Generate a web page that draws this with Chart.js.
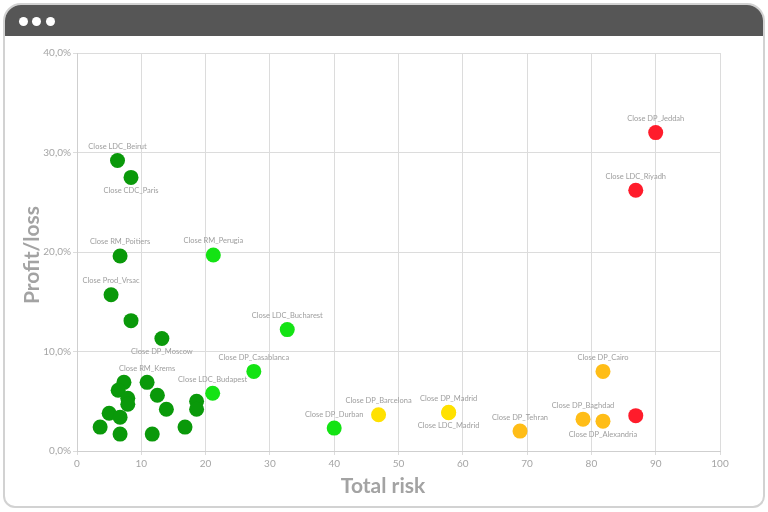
<!DOCTYPE html>
<html>
<head>
<meta charset="utf-8">
<script src="https://cdn.jsdelivr.net/npm/chart.js@4.4.1/dist/chart.umd.min.js"></script>
<style>
  html, body { margin: 0; padding: 0; background: #fff; }
  #wrap { position: relative; width: 768px; height: 512px; overflow: hidden; }
  #frame {
    position: absolute; left: 3px; top: 3px; width: 758px; height: 501px;
    border: 2px solid #d2d2d2; border-radius: 18px 18px 12px 12px; overflow: hidden;
  }
  #bar { position: absolute; left: 0; top: 0; right: 0; height: 31px; background: #565656; }
  .dot { position: absolute; top: 12px; width: 9px; height: 9px; border-radius: 50%; background: #fff; }
  #chart { position: absolute; left: 0; top: 0; }
</style>
</head>
<body>
<div id="wrap">
  <div id="frame">
    <div id="bar">
      <div class="dot" style="left:14px"></div>
      <div class="dot" style="left:27px"></div>
      <div class="dot" style="left:41px"></div>
    </div>
  </div>
  <canvas id="chart" width="768" height="512"></canvas>
</div>
<script>
// Total risk (x) and profit/loss in % (y), grouped by colour
const darkGreenNames = ['Close LDC_Beirut', 'Close CDC_Paris', 'Close RM_Poitiers', 'Close Prod_Vrsac', '', 'Close DP_Moscow', 'Close RM_Krems',
  '', '', '', '', '', '', '', '', '', '', '', '', '', ''];
const darkGreenRisk = [6.3, 8.4, 6.7, 5.3, 8.4, 13.2, 10.9, 7.3, 6.4, 7.9, 7.9, 5.0, 6.7, 3.6, 6.7, 12.5, 13.9, 11.7, 16.8, 18.6, 18.6];
const darkGreenProfit = [29.2, 27.5, 19.6, 15.7, 13.1, 11.3, 6.9, 6.9, 6.1, 5.3, 4.7, 3.8, 3.4, 2.4, 1.7, 5.6, 4.2, 1.7, 2.4, 5.0, 4.2];

const greenNames = ['Close RM_Perugia', 'Close LDC_Bucharest', 'Close DP_Casablanca', 'Close LDC_Budapest', 'Close DP_Durban'];
const greenRisk = [21.2, 32.7, 27.5, 21.1, 40.0];
const greenProfit = [19.7, 12.2, 8.0, 5.8, 2.3];

const yellowNames = ['Close DP_Barcelona', 'Close DP_Madrid', 'Close LDC_Madrid'];
const yellowRisk = [46.9, 57.8, 57.8];
const yellowProfit = [3.65, 3.9, 3.85];

const orangeNames = ['Close DP_Tehran', 'Close DP_Baghdad', 'Close DP_Alexandria', 'Close DP_Cairo'];
const orangeRisk = [68.9, 78.7, 81.8, 81.8];
const orangeProfit = [2.0, 3.2, 3.0, 8.0];

const redNames = ['', 'Close DP_Jeddah', 'Close LDC_Riyadh'];
const redRisk = [86.9, 90.0, 86.9];
const redProfit = [3.55, 32.0, 26.2];

// labels drawn under their point instead of above
const namesBelow = ['Close CDC_Paris', 'Close DP_Moscow', 'Close LDC_Madrid', 'Close DP_Alexandria'];

const groups = [
  { names: darkGreenNames, risk: darkGreenRisk, profit: darkGreenProfit, color: '#0a990a' },
  { names: greenNames, risk: greenRisk, profit: greenProfit, color: '#14e314' },
  { names: yellowNames, risk: yellowRisk, profit: yellowProfit, color: '#ffe100' },
  { names: orangeNames, risk: orangeRisk, profit: orangeProfit, color: '#ffbd17' },
  { names: redNames, risk: redRisk, profit: redProfit, color: '#ff1c2b' }
];

const pointLabels = {
  id: 'pointLabels',
  afterDatasetsDraw(chart) {
    const ctx = chart.ctx;
    ctx.save();
    ctx.font = '7.5px Lato';
    ctx.fillStyle = '#9e9e9e';
    ctx.textAlign = 'center';
    ctx.textBaseline = 'middle';
    chart.data.datasets.forEach((ds, i) => {
      const meta = chart.getDatasetMeta(i);
      meta.data.forEach((el, j) => {
        const name = ds.names[j];
        if (!name) return;
        const dy = namesBelow.includes(name) ? 13 : -14;
        ctx.fillText(name, el.x, el.y + dy);
      });
    });
    ctx.restore();
  }
};

const axisTitles = {
  id: 'axisTitles',
  afterDraw(chart) {
    const ctx = chart.ctx;
    ctx.save();
    ctx.font = 'bold 21px Lato';
    ctx.fillStyle = '#a3a3a3';
    ctx.textAlign = 'center';
    ctx.textBaseline = 'middle';
    ctx.fillText('Total risk', 383, 486);
    ctx.translate(32, 255);
    ctx.rotate(-Math.PI / 2);
    ctx.fillText('Profit/loss', 0, 0);
    ctx.restore();
  }
};

new Chart(document.getElementById('chart'), {
  type: 'scatter',
  data: {
    datasets: groups.map(g => ({
      names: g.names,
      data: g.risk.map((x, i) => ({ x: x, y: g.profit[i] })),
      backgroundColor: g.color,
      borderWidth: 0,
      pointRadius: 7.5,
      pointHoverRadius: 7.5
    }))
  },
  options: {
    responsive: false,
    animation: false,
    events: [],
    layout: { padding: { left: 0, top: 53, right: 48, bottom: 0 } },
    plugins: {
      legend: { display: false },
      tooltip: { enabled: false }
    },
    scales: {
      x: {
        type: 'linear',
        min: 0,
        max: 100,
        ticks: { stepSize: 10, color: '#a5a5a5', font: { family: 'Lato', size: 10 }, padding: 3 },
        grid: { color: '#dcdcdc', tickLength: 4 },
        border: { color: '#cfcfcf' },
        afterFit: scale => { scale.height = 61; }
      },
      y: {
        min: 0,
        max: 40,
        ticks: {
          stepSize: 10,
          color: '#a5a5a5',
          font: { family: 'Lato', size: 10 },
          padding: 2,
          callback: v => v.toFixed(1).replace('.', ',') + '%'
        },
        grid: { color: '#dcdcdc', tickLength: 4 },
        border: { color: '#cfcfcf' },
        afterFit: scale => { scale.width = 77; }
      }
    }
  },
  plugins: [pointLabels, axisTitles]
});
</script>
</body>
</html>
